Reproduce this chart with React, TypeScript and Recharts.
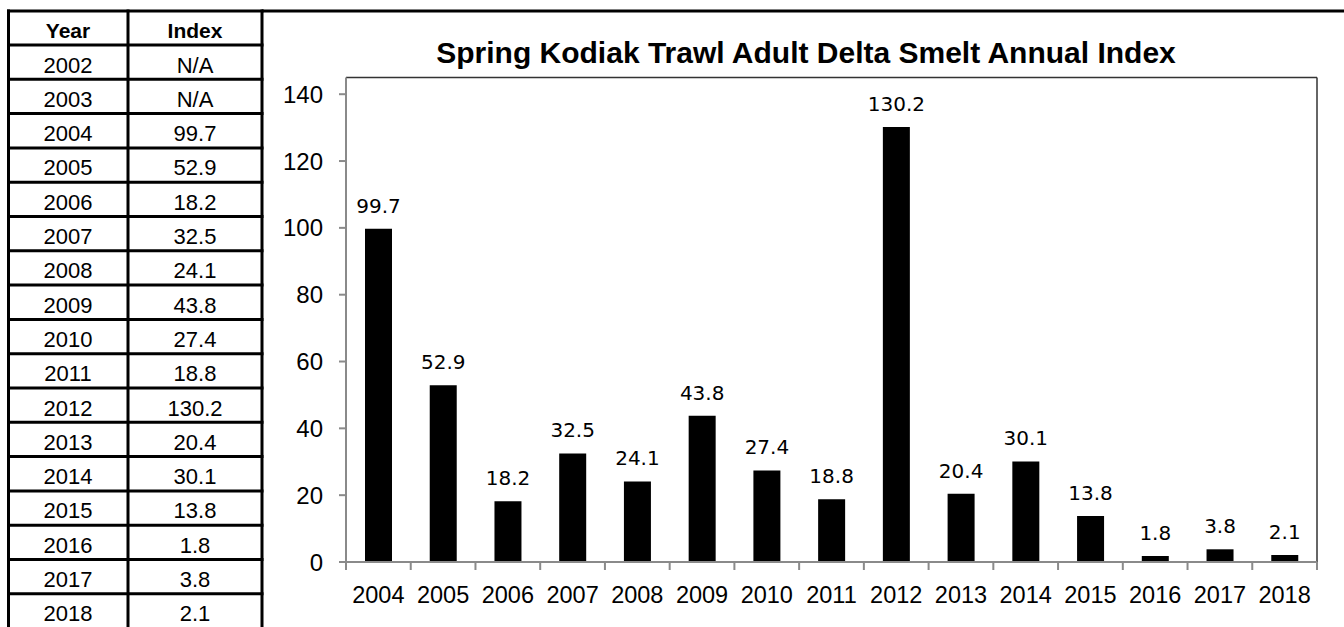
import { BarChart, Bar, XAxis, YAxis, LabelList, CartesianGrid } from 'recharts'

// Table rows (2002 and 2003 have no index)
const years = ['2002', '2003', '2004', '2005', '2006', '2007', '2008', '2009', '2010', '2011', '2012', '2013', '2014', '2015', '2016', '2017', '2018']
const indexValues: (number | null)[] = [null, null, 99.7, 52.9, 18.2, 32.5, 24.1, 43.8, 27.4, 18.8, 130.2, 20.4, 30.1, 13.8, 1.8, 3.8, 2.1]
const yTicks = [0, 20, 40, 60, 80, 100, 120, 140]
const title = 'Spring Kodiak Trawl Adult Delta Smelt Annual Index'

const chartData = years
  .map((year, i) => ({ year, index: indexValues[i] }))
  .filter((d) => d.index !== null)

const arial = '"Liberation Sans", Arial, sans-serif'
const axisGray = '#8a8a8a'

const CHART_W = 1074
const Y_AXIS_W = 76
const MARGIN_RIGHT = 27
// half of one category band, for the tick marks between years
const HALF_BAND = (CHART_W - Y_AXIS_W - MARGIN_RIGHT) / chartData.length / 2

const ROW_TOP = 11
const HEADER_H = 34
const ROW_H = 34.3
const COLS = [8.5, 128, 262]

function DataTable() {
  const rowTops = [ROW_TOP, ...years.map((_, i) => ROW_TOP + HEADER_H + i * ROW_H)]
  const bottom = 640
  return (
    <svg width={1344} height={627} style={{ position: 'absolute', left: 0, top: 0 }}>
      {rowTops.map((y, i) => (
        <line key={'h' + i} x1={COLS[0] - 1.5} x2={COLS[2] + 1.5} y1={y} y2={y} stroke="#000" strokeWidth={3} />
      ))}
      {COLS.map((x, i) => (
        <line key={'v' + i} x1={x} x2={x} y1={ROW_TOP - 1.5} y2={bottom} stroke="#000" strokeWidth={3} />
      ))}
      {/* top edge of the chart area box */}
      <line x1={COLS[2]} x2={1344} y1={ROW_TOP} y2={ROW_TOP} stroke="#000" strokeWidth={3} />
      <text x={68} y={ROW_TOP + 27} textAnchor="middle" fontFamily={arial} fontWeight="bold" fontSize={21}>Year</text>
      <text x={195} y={ROW_TOP + 27} textAnchor="middle" fontFamily={arial} fontWeight="bold" fontSize={21}>Index</text>
      {years.map((year, i) => {
        const y = ROW_TOP + HEADER_H + i * ROW_H + 27.5
        const v = indexValues[i]
        return (
          <g key={year}>
            <text x={68} y={y} textAnchor="middle" fontFamily={arial} fontSize={22}>{year}</text>
            <text x={195} y={y} textAnchor="middle" fontFamily={arial} fontSize={22}>{v === null ? 'N/A' : v.toFixed(1)}</text>
          </g>
        )
      })}
      <text x={806} y={63} textAnchor="middle" fontFamily={arial} fontWeight="bold" fontSize={30}>{title}</text>
    </svg>
  )
}

// year label at the band centre, tick marks on the band edges (Excel style)
function YearTick(props: any) {
  const { x, y, payload, index, visibleTicksCount } = props
  const last = index === visibleTicksCount - 1
  return (
    <g>
      <rect x={x - HALF_BAND - 1} y={y - 24} width={2} height={8} fill={axisGray} />
      {last && <rect x={x + HALF_BAND - 1} y={y - 24} width={2} height={8} fill={axisGray} />}
      <text x={x} y={y} dy="0.71em" textAnchor="middle" fill="#000" fontSize={23.5} fontFamily={arial}>
        {payload.value}
      </text>
    </g>
  )
}

export default function App() {
  return (
    <div style={{ position: 'absolute', left: 0, top: 0, width: 1344, height: 627, background: '#fff' }}>
      <DataTable />
      <div style={{ position: 'absolute', left: 270, top: 0 }}>
        <BarChart width={CHART_W} height={627} data={chartData} margin={{ top: 77.5, right: MARGIN_RIGHT, left: 0, bottom: 0 }}>
          <CartesianGrid
            stroke="#333"
            strokeWidth={1.5}
            horizontalCoordinatesGenerator={({ offset }: any) => [offset.top]}
            verticalCoordinatesGenerator={({ offset }: any) => [offset.left + offset.width]}
          />
          <XAxis
            dataKey="year"
            height={65}
            interval={0}
            axisLine={{ stroke: axisGray, strokeWidth: 2 }}
            tickLine={false}
            tickSize={0}
            tickMargin={24}
            tick={<YearTick />}
          />
          <YAxis
            width={Y_AXIS_W}
            domain={[0, 145]}
            ticks={yTicks}
            interval={0}
            allowDataOverflow
            axisLine={{ stroke: axisGray, strokeWidth: 2 }}
            tickLine={{ stroke: axisGray, strokeWidth: 2 }}
            tickSize={7}
            tickMargin={16}
            tick={{ fill: '#000', fontSize: 24, fontFamily: arial }}
          />
          <Bar dataKey="index" fill="#000" barSize={27} isAnimationActive={false}>
            <LabelList
              dataKey="index"
              position="top"
              offset={16}
              formatter={(v: number) => v.toFixed(1)}
              style={{ fill: '#000', fontSize: 20, fontFamily: '"DejaVu Sans", sans-serif' }}
            />
          </Bar>
        </BarChart>
      </div>
    </div>
  )
}
